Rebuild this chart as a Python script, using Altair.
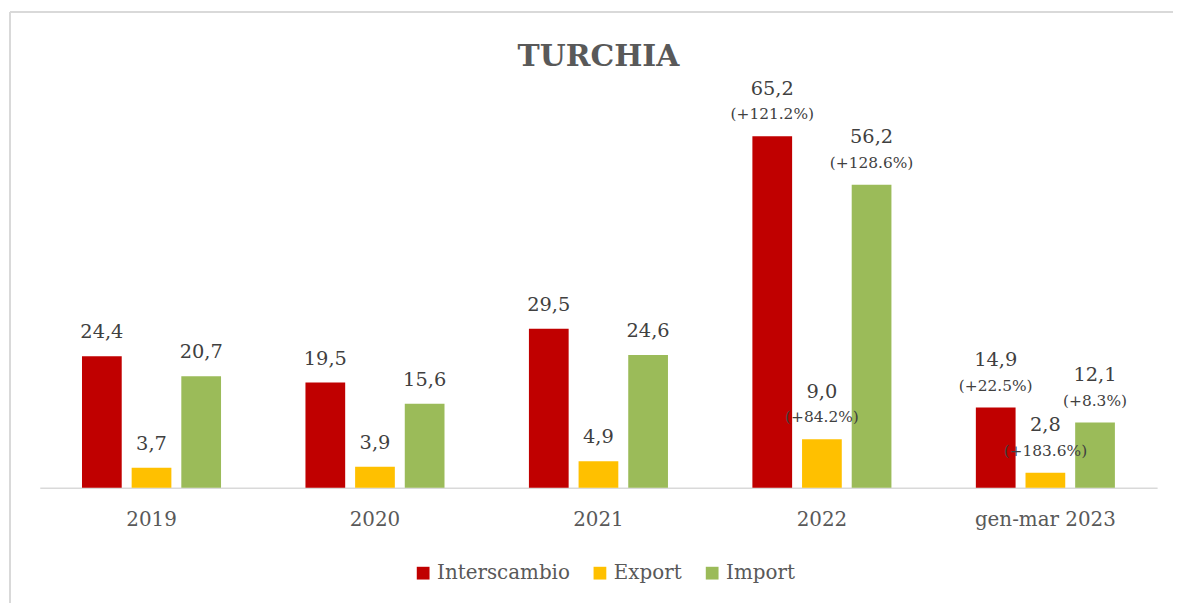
import altair as alt
import pandas as pd

categories = ["2019", "2020", "2021", "2022", "gen-mar 2023"]
series = ["Interscambio", "Export", "Import"]
interscambio = [24.4, 19.5, 29.5, 65.2, 14.9]
export_vals = [3.7, 3.9, 4.9, 9.0, 2.8]
import_vals = [20.7, 15.6, 24.6, 56.2, 12.1]
pct_interscambio = ["", "", "", "(+121.2%)", "(+22.5%)"]
pct_export = ["", "", "", "(+84.2%)", "(+183.6%)"]
pct_import = ["", "", "", "(+128.6%)", "(+8.3%)"]
colors = ["#C00000", "#FFC000", "#9BBB59"]
title_text = ["TURCHIA"]

rows = []
for name, vals, pcts in zip(series, [interscambio, export_vals, import_vals],
                            [pct_interscambio, pct_export, pct_import]):
    for c, v, p in zip(categories, vals, pcts):
        rows.append({"cat": c, "serie": name, "val": v,
                     "lab": f"{v:.1f}".replace(".", ","), "pct": p,
                     "haspct": 1 if p else 0})
df = pd.DataFrame(rows)

FONT = "DejaVu Serif"
W, H = 1125, 380

x = alt.X("cat:N", sort=categories, title=None,
          scale=alt.Scale(paddingInner=1/3, paddingOuter=1/6),
          axis=alt.Axis(labelAngle=0, labelFont=FONT, labelFontSize=20,
                        labelColor="#595959", ticks=False, tickSize=0,
                        labelPadding=22, domainColor="#D9D9D9",
                        domainWidth=1.5, grid=False))
xo = alt.XOffset("serie:N", sort=series,
                 scale=alt.Scale(paddingInner=0.2, paddingOuter=0.1))
y = alt.Y("val:Q", scale=alt.Scale(domain=[0, 70]), axis=None)

base = alt.Chart(df).encode(x=x, xOffset=xo, y=y)

bars = base.mark_bar().encode(
    color=alt.Color("serie:N", sort=series,
                    scale=alt.Scale(domain=series, range=colors),
                    legend=alt.Legend(title=None, orient="none", direction="horizontal",
                                      legendX=376, legendY=456, padding=0,
                                      symbolType="square", symbolSize=165,
                                      symbolStrokeWidth=0, labelFont=FONT,
                                      labelFontSize=20, labelColor="#595959",
                                      labelOffset=4, columnPadding=20))
)

lab_plain = base.transform_filter("datum.haspct == 0").mark_text(
    font=FONT, fontSize=19.5, color="#404040", baseline="middle", dy=-24
).encode(text="lab:N")

lab_top = base.transform_filter("datum.haspct == 1").mark_text(
    font=FONT, fontSize=19.5, color="#404040", baseline="middle", dy=-48
).encode(text="lab:N")

lab_pct = base.transform_filter("datum.haspct == 1").mark_text(
    font=FONT, fontSize=15.5, color="#404040", baseline="middle", dy=-22
).encode(text="pct:N")

frame_top = alt.Chart(df).mark_rule(color="#D9D9D9", strokeWidth=1.5).encode(
    x=alt.value(-30), x2=alt.value(1150), y=alt.value(-99))
frame_left = alt.Chart(df).mark_rule(color="#D9D9D9", strokeWidth=1.5).encode(
    x=alt.value(-30), y=alt.value(-99), y2=alt.value(500))

title = alt.Chart(pd.DataFrame({"t": title_text})).mark_text(
    font=FONT, fontSize=30, fontWeight="bold", color="#595959",
    align="center", baseline="middle"
).encode(text="t:N", x=alt.value(W / 2), y=alt.value(-54))

chart = alt.layer(frame_top, frame_left, bars, lab_plain, lab_top, lab_pct, title).properties(
    width=W, height=H,
    autosize=alt.AutoSizeParams(type="none"),
    padding={"left": 32, "top": 101, "right": 16, "bottom": 114},
    background="white",
).configure_view(strokeWidth=0)

chart.save("out.html", embed_options={"renderer": "svg", "actions": False})
